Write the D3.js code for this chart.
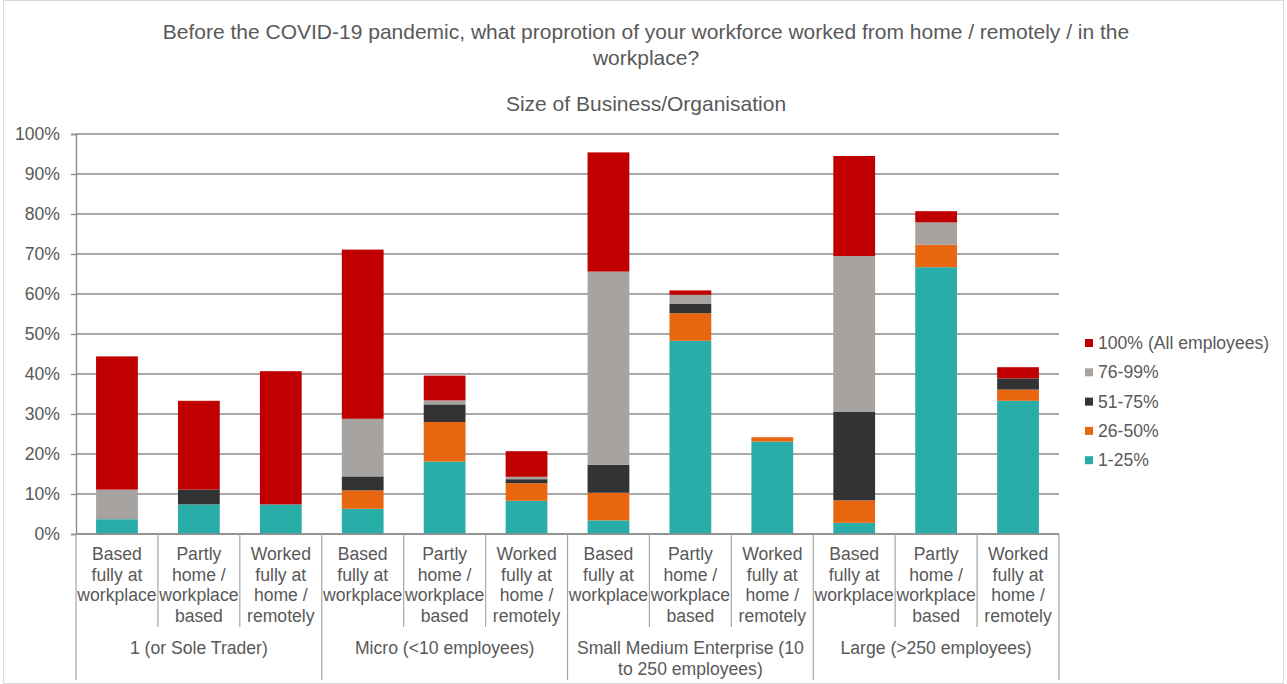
<!DOCTYPE html>
<html>
<head>
<meta charset="utf-8">
<script src="https://cdn.jsdelivr.net/npm/d3@7"></script>
<style>
  html, body { margin: 0; padding: 0; background: #fff; }
  svg { display: block; font-family: "Liberation Sans", Arial, sans-serif; }
</style>
</head>
<body>
<svg id="chart" width="1287" height="684"></svg>
<script>
// Business size groups and the working pattern shown in each
const groups = ["1 (or Sole Trader)", "Micro (<10 employees)", "Small Medium Enterprise (10 to 250 employees)", "Large (>250 employees)"];
const groupLines = [["1 (or Sole Trader)"], ["Micro (<10 employees)"], ["Small Medium Enterprise (10", "to 250 employees)"], ["Large (>250 employees)"]];
const patterns = ["Based fully at workplace", "Partly home / workplace based", "Worked fully at home / remotely"];
const patternLines = [["Based", "fully at", "workplace"], ["Partly", "home /", "workplace", "based"], ["Worked", "fully at", "home /", "remotely"]];

// Share of respondents (%) per proportion band, 12 bars (4 groups x 3 patterns)
const band1to25   = [3.7, 7.4, 7.4, 6.3, 18.1, 8.3, 3.4, 48.3, 23.1, 2.8, 66.7, 33.3];
const band26to50  = [0, 0, 0, 4.6, 9.9, 4.4, 6.9, 6.9, 1.1, 5.6, 5.6, 2.8];
const band51to75  = [0, 3.7, 0, 3.5, 4.4, 1.0, 7.0, 2.4, 0, 22.1, 0, 2.8];
const band76to99  = [7.4, 0, 0, 14.4, 1.0, 0.6, 48.3, 2.2, 0, 39.0, 5.6, 0];
const band100     = [33.3, 22.2, 33.3, 42.3, 6.2, 6.4, 29.8, 1.1, 0, 25.0, 2.8, 2.8];

const seriesKeys = ["1-25%", "26-50%", "51-75%", "76-99%", "100% (All employees)"];
const seriesValues = [band1to25, band26to50, band51to75, band76to99, band100];
const seriesColors = ["#29ada8", "#e96611", "#333333", "#a6a3a1", "#c00000"];
const yTicks = [0, 10, 20, 30, 40, 50, 60, 70, 80, 90, 100];

const titleLines = ["Before the COVID-19 pandemic, what proprotion of your workforce worked from home / remotely / in the", "workplace?"];
const subtitle = "Size of Business/Organisation";

// Build one row per bar for d3.stack
const rows = [];
groups.forEach((g, gi) => {
  patterns.forEach((p, pi) => {
    const idx = gi * patterns.length + pi;
    const row = { id: idx, group: gi, pattern: pi };
    seriesKeys.forEach((k, si) => { row[k] = seriesValues[si][idx]; });
    rows.push(row);
  });
});

const svg = d3.select("#chart");
const plotL = 76, plotR = 1059, plotT = 134, plotB = 534;
const textColor = "#595959";
const labelSize = 17.6, titleSize = 21;

// outer frame
svg.append("rect").attr("x", 3.5).attr("y", 0.5).attr("width", 1280).attr("height", 683)
  .attr("fill", "none").attr("stroke", "#d9d9d9");

const x = d3.scaleBand().domain(rows.map(d => d.id)).range([plotL, plotR])
  .paddingInner(0.49).paddingOuter(0.245);
const y = d3.scaleLinear().domain([0, 100]).range([plotB, plotT]);

// titles
svg.append("text").attr("text-anchor", "middle")
  .attr("font-size", titleSize).attr("fill", textColor)
  .selectAll("tspan").data(titleLines).join("tspan")
  .attr("x", 646).attr("y", (d, i) => 39 + i * 26).text(d => d);
svg.append("text").attr("x", 646).attr("y", 111).attr("text-anchor", "middle")
  .attr("font-size", titleSize).attr("fill", textColor).text(subtitle);

// gridlines
svg.append("g").selectAll("line").data(yTicks).join("line")
  .attr("x1", plotL).attr("x2", plotR)
  .attr("y1", d => y(d)).attr("y2", d => y(d))
  .attr("stroke", "#8c8c8c").attr("stroke-width", 1.4);

// y axis
const yAxis = d3.axisLeft(y).tickValues(yTicks).tickFormat(d => d + "%").tickSize(5).tickPadding(11);
const yg = svg.append("g").attr("transform", `translate(${plotL},0)`).call(yAxis);
yg.select(".domain").attr("stroke", "#8c8c8c").attr("stroke-width", 1.4);
yg.selectAll(".tick line").attr("stroke", "#8c8c8c").attr("stroke-width", 1.4);
yg.selectAll(".tick text").attr("fill", textColor).attr("font-size", labelSize)
  .attr("font-family", "Liberation Sans, Arial, sans-serif");

// stacked bars
const stack = d3.stack().keys(seriesKeys);
const stacked = stack(rows);
svg.append("g").selectAll("g").data(stacked).join("g")
  .attr("fill", (d, i) => seriesColors[i])
  .selectAll("rect").data(d => d).join("rect")
  .attr("x", d => x(d.data.id))
  .attr("width", x.bandwidth())
  .attr("y", d => y(d[1]))
  .attr("height", d => Math.max(0, y(d[0]) - y(d[1])));

// category axis (two levels)
const step = x.step();
const lineCol = "#a6a6a6";
const axisG = svg.append("g");
axisG.append("line").attr("x1", plotL).attr("x2", plotR).attr("y1", plotB).attr("y2", plotB)
  .attr("stroke", "#8c8c8c").attr("stroke-width", 1.4);
// separators between bars
d3.range(0, rows.length + 1).forEach(i => {
  const xx = plotL + i * step;
  const isGroup = i % patterns.length === 0;
  axisG.append("line").attr("x1", xx).attr("x2", xx)
    .attr("y1", plotB).attr("y2", isGroup ? 680 : 627)
    .attr("stroke", lineCol).attr("stroke-width", 1.2);
});
// inner labels
rows.forEach(r => {
  const cx = x(r.id) + x.bandwidth() / 2;
  axisG.append("text").attr("text-anchor", "middle").attr("font-size", labelSize).attr("fill", textColor)
    .selectAll("tspan").data(patternLines[r.pattern]).join("tspan")
    .attr("x", cx).attr("y", (d, i) => 560 + i * 20.7).text(d => d);
});
// group labels
groups.forEach((g, gi) => {
  const cx = plotL + (gi * patterns.length + patterns.length / 2) * step;
  axisG.append("text").attr("text-anchor", "middle").attr("font-size", labelSize).attr("fill", textColor)
    .selectAll("tspan").data(groupLines[gi]).join("tspan")
    .attr("x", cx).attr("y", (d, i) => 654 + i * 20.7).text(d => d);
});

// legend (top series first)
const legendOrder = seriesKeys.map((k, i) => ({ key: k, color: seriesColors[i] })).reverse();
const lg = svg.append("g");
legendOrder.forEach((d, i) => {
  const yy = 343 + i * 29.3;
  lg.append("rect").attr("x", 1085).attr("y", yy - 4).attr("width", 8).attr("height", 8).attr("fill", d.color);
  lg.append("text").attr("x", 1098).attr("y", yy + 6).attr("font-size", labelSize).attr("fill", textColor).text(d.key);
});
</script>
</body>
</html>
